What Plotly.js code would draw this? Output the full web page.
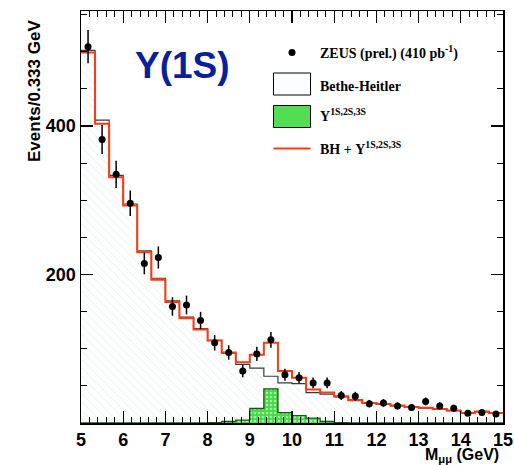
<!DOCTYPE html>
<html>
<head>
<meta charset="utf-8">
<script src="https://cdn.plot.ly/plotly-3.0.1.min.js"></script>
<style>html,body{margin:0;padding:0;background:#fff;}#chart{width:514px;height:465px;}</style>
</head>
<body>
<div id="chart"></div>
<script>
// bin edges (0.333 GeV bins) and bin centres
const binEdges = [5,5.333,5.667,6,6.333,6.667,7,7.333,7.667,8,8.333,8.667,9,9.333,9.667,10,10.333,10.667,11,11.333,11.667,12,12.333,12.667,13,13.333,13.667,14,14.333,14.667,15];
const binCenters = [5.167,5.5,5.833,6.167,6.5,6.833,7.167,7.5,7.833,8.167,8.5,8.833,9.167,9.5,9.833,10.167,10.5,10.833,11.167,11.5,11.833,12.167,12.5,12.833,13.167,13.5,13.833,14.167,14.5,14.833];
// ZEUS data points and errors
const zeusData = [507,382,335,296,215,223,157,159,138,108,95,70,93,112,65,61,54,54,37,36,26,27,23,21,29,23,20,13,14,12];
const zeusErr  = [22.5,19.5,18.3,17.2,14.7,14.9,12.5,12.6,11.7,10.4,9.7,8.4,9.6,10.6,8.1,7.8,7.3,7.3,6.1,6.0,5.1,5.2,4.8,4.6,5.4,4.8,4.5,3.6,3.7,3.5];
// Bethe-Heitler MC
const bheitler = [502,408,333.5,295,232,195,164.5,142.5,127,111.5,94,79,74,63,54,53,41,39,35,30,26.5,25,23,21,20,18.5,16.5,13,15,13];
// Upsilon(1S,2S,3S) MC
const upsilon  = [0,0,0,0,0,0,0,0,0,0.5,2,4,19.5,46,14,10,6.5,2,0.5,0,0,0,0,0,0,0,0,0,0,0];
// BH + Upsilon
const bhPlusUps = [499,403,331,293,230,193,163,141,126,111,95,82,92,108,70,61,45,41,36,31,27,25.5,23.5,21.5,20.5,19,17,13.5,15.5,13.5];

const ext = a => a.concat([a[a.length-1]]);

const traces = [
  {x: binEdges, y: ext(bheitler), type:'scatter', mode:'lines', line:{shape:'hv', color:'#3a3a3a', width:1.2},
   fill:'tozeroy', fillcolor:'#ffffff', fillpattern:{shape:'\\', fgcolor:'#e2edf2', bgcolor:'#ffffff', size:6, solidity:0.15}, hoverinfo:'skip'},
  {x: binEdges, y: ext(upsilon), type:'scatter', mode:'lines', line:{shape:'hv', color:'#145a14', width:1.3},
   fill:'tozeroy', fillcolor:'#4fdc4f', fillpattern:{shape:'.', fgcolor:'#a6f3a6', bgcolor:'#46d846', size:4, solidity:0.35}, hoverinfo:'skip'},
  {x: binEdges, y: ext(bhPlusUps), type:'scatter', mode:'lines', line:{shape:'hv', color:'#ff3a10', width:2}, hoverinfo:'skip'},
  {x: binCenters, y: zeusData, type:'scatter', mode:'markers', marker:{color:'#000', size:7, symbol:'circle'},
   error_y:{type:'data', array: zeusErr, visible:true, color:'#000', thickness:1.5, width:0}}
];

// pixel -> paper helpers (plot area: x 81..503, y 11..423)
const L=81, R=503, T=11, B=423;
const px = v => (v-L)/(R-L);
const py = v => (B-v)/(B-T);

const serif = {family:'Liberation Serif, Times New Roman, serif', size:14, color:'#000', weight:700};
const sans = 'Liberation Sans, Arial, Helvetica, sans-serif';

const layout = {
  width:514, height:465,
  margin:{l:81, r:11, t:11, b:42},
  paper_bgcolor:'#fff', plot_bgcolor:'#fff',
  showlegend:false,
  xaxis:{range:[5,15], showline:true, linecolor:'#000', linewidth:1.5, mirror:'allticks',
    ticks:'inside', ticklen:12, tickwidth:1.2, tickcolor:'#000', tick0:5, dtick:1,
    tickfont:{family:sans, size:18, weight:700, color:'#000'},
    minor:{tick0:5, dtick:0.2, ticks:'inside', ticklen:6, tickwidth:1, tickcolor:'#000'},
    showgrid:false, zeroline:false},
  yaxis:{range:[0,555], showline:true, linecolor:'#000', linewidth:1.5, mirror:'allticks',
    ticks:'inside', ticklen:12, tickwidth:1.2, tickcolor:'#000', tickmode:'array', tickvals:[200,400],
    tickfont:{family:sans, size:18, weight:700, color:'#000'},
    minor:{tickmode:'linear', tick0:0, dtick:50, ticks:'inside', ticklen:6, tickwidth:1, tickcolor:'#000'},
    showgrid:false, zeroline:false},
  shapes:[
    {type:'circle', xref:'paper', yref:'paper', x0:px(288.5), x1:px(295.5), y0:py(56), y1:py(49), fillcolor:'#000', line:{width:0}},
    {type:'rect', xref:'paper', yref:'paper', x0:px(273.5), x1:px(310.5), y0:py(95), y1:py(73), fillcolor:'#fbfdfe', line:{color:'#000', width:1}},
    {type:'rect', xref:'paper', yref:'paper', x0:px(273.5), x1:px(310.5), y0:py(127.5), y1:py(105.5), fillcolor:'#52dd52', line:{color:'#000', width:1}},
    {type:'line', xref:'paper', yref:'paper', x0:px(273.5), x1:px(310.5), y0:py(148.5), y1:py(148.5), line:{color:'#ff3a10', width:2}}
  ],
  annotations:[
    {xref:'paper', yref:'paper', x:px(318), y:py(53), xanchor:'left', yanchor:'middle', showarrow:false, font:serif,
     text:'ZEUS (prel.) (410 pb<sup>-1</sup>)'},
    {xref:'paper', yref:'paper', x:px(318), y:py(86), xanchor:'left', yanchor:'middle', showarrow:false, font:serif,
     text:'Bethe-Heitler'},
    {xref:'paper', yref:'paper', x:px(318), y:py(115), xanchor:'left', yanchor:'middle', showarrow:false, font:serif,
     text:'Υ<sup>1S,2S,3S</sup>'},
    {xref:'paper', yref:'paper', x:px(318), y:py(148), xanchor:'left', yanchor:'middle', showarrow:false, font:serif,
     text:'BH + Υ<sup>1S,2S,3S</sup>'},
    {xref:'paper', yref:'paper', x:px(182), y:py(65), xanchor:'center', yanchor:'middle', showarrow:false,
     font:{family:sans, size:37, weight:700, color:'#0b1f99'}, text:'Υ(1S)'},
    {xref:'paper', yref:'paper', x:px(34), y:py(91), xanchor:'center', yanchor:'middle', showarrow:false, textangle:-90,
     font:{family:sans, size:17, weight:700, color:'#000'}, text:'Events/0.333 GeV'},
    {xref:'paper', yref:'paper', x:px(501), y:py(455), xanchor:'right', yanchor:'middle', showarrow:false,
     font:{family:sans, size:16, weight:700, color:'#000'}, text:'M<sub>μμ</sub> (GeV)'}
  ]
};

Plotly.newPlot('chart', traces, layout, {displayModeBar:false, staticPlot:true});
</script>
</body>
</html>
